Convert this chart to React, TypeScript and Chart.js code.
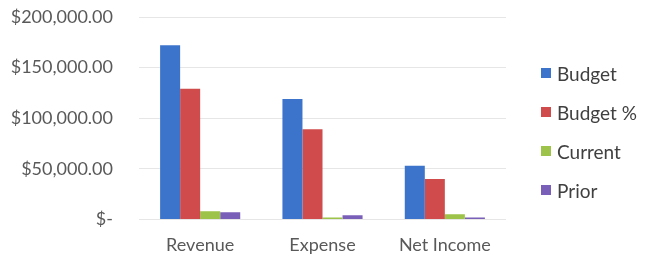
import React, { useEffect, useRef } from "react";
import { Chart, registerables } from "chart.js";

Chart.register(...registerables);

const categories = ["Revenue", "Expense", "Net Income"];
const seriesNames = ["Budget", "Budget %", "Current", "Prior"];
const budget = [172000, 119000, 53000];
const budgetPct = [129000, 89000, 40000];
const current = [8000, 2000, 5000];
const prior = [7000, 4000, 2000];
const colors = ["#3C74CB", "#D04B4B", "#9DC34A", "#7A5FB8"];

const FONT = "Lato, 'Open Sans', sans-serif";

export default function App() {
  const ref = useRef<HTMLCanvasElement>(null);
  useEffect(() => {
    const values = [budget, budgetPct, current, prior];
    const chart = new Chart(ref.current!, {
      type: "bar",
      data: {
        labels: categories,
        datasets: seriesNames.map((n, i) => ({
          label: n,
          data: values[i],
          backgroundColor: colors[i],
          borderWidth: 0,
          categoryPercentage: 0.655,
          barPercentage: 1,
        })),
      },
      options: {
        animation: false,
        responsive: false,
        maintainAspectRatio: false,
        layout: { padding: { top: 17, right: 151, bottom: 0, left: 0 } },
        plugins: { legend: { display: false }, tooltip: { enabled: false } },
        scales: {
          x: {
            grid: { display: false, drawTicks: false },
            border: { display: false },
            ticks: { color: "#595959", font: { family: FONT, size: 18 }, padding: 15 },
          },
          y: {
            min: 0,
            max: 200000,
            afterFit: (s: any) => {
              s.width = 139;
              s.paddingTop = 0;
              s.paddingBottom = 0;
            },
            grid: { color: "#E6E6E6", drawTicks: false },
            border: { display: false },
            ticks: {
              stepSize: 50000,
              padding: 26,
              color: "#595959",
              font: { family: FONT, size: 18 },
              callback: (v: any) =>
                Number(v) === 0
                  ? "$-"
                  : "$" + Number(v).toLocaleString("en-US", { minimumFractionDigits: 2, maximumFractionDigits: 2 }),
            },
          },
        },
      },
    });
    return () => chart.destroy();
  }, []);
  return (
    <div style={{ position: "absolute", left: 0, top: 0, width: 657, height: 255, background: "#fff", overflow: "hidden" }}>
      <canvas ref={ref} width={657} height={271} style={{ display: "block" }} />
      {seriesNames.map((n, i) => (
        <div
          key={n}
          style={{
            position: "absolute",
            left: 541,
            top: 73 + i * 39 - 12,
            height: 24,
            display: "flex",
            alignItems: "center",
            fontFamily: FONT,
            fontSize: 19,
            color: "#404040",
            whiteSpace: "nowrap",
          }}
        >
          <span style={{ display: "inline-block", width: 10, height: 10, background: colors[i], marginRight: 6 }} />
          {n}
        </div>
      ))}
    </div>
  );
}
